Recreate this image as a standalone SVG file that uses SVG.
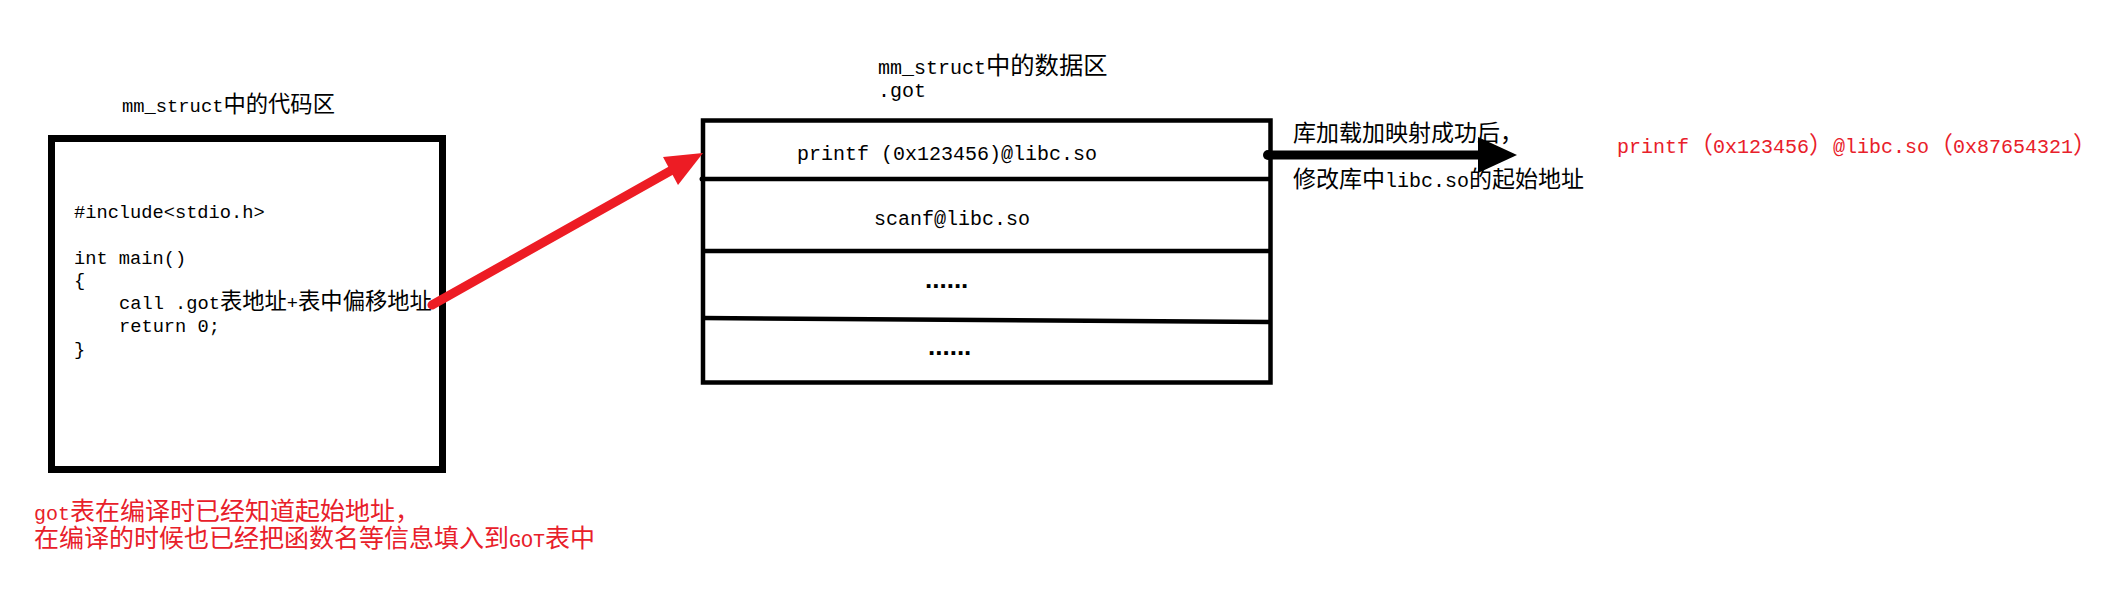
<svg xmlns="http://www.w3.org/2000/svg" width="2114" height="606" viewBox="0 0 2114 606">
<style>
.m{font-family:"Liberation Mono","DejaVu Sans Mono",monospace;fill:#000}
.k{font-family:"Noto Sans CJK SC","Noto Sans CJK JP",sans-serif}
.red{fill:#e8202a}
.dots{font-family:"Liberation Sans",Arial,sans-serif;font-size:26px;font-weight:bold;fill:#000}
.frame{fill:#fff;stroke:#000}
.row{stroke:#000;stroke-width:4.5;fill:none}
</style>
<rect width="2114" height="606" fill="#fff"/>

<g id="code-area">
  <text class="m" x="122" y="112" font-size="18.8">mm_struct<tspan class="k" font-size="22.3">中的代码区</tspan></text>
  <rect class="frame" x="51.5" y="138.5" width="391" height="331" stroke-width="7"/>
  <text class="m" font-size="18.7">
    <tspan x="74" y="218">#include&lt;stdio.h&gt;</tspan>
    <tspan x="74" y="263.6">int main()</tspan>
    <tspan x="74" y="286.4">{</tspan>
    <tspan x="119" y="309.2">call .got<tspan class="k" font-size="22.3">表地址</tspan>+<tspan class="k" font-size="22.3">表中偏移地址</tspan></tspan>
    <tspan x="119" y="332">return 0;</tspan>
    <tspan x="74" y="354.8">}</tspan>
  </text>
</g>

<g id="got-table">
  <text class="m" x="878" y="74" font-size="20">mm_struct<tspan class="k" font-size="24.3">中的数据区</tspan></text>
  <text class="m" x="878" y="97" font-size="20">.got</text>
  <rect class="frame" x="703" y="120.5" width="567.5" height="262" stroke-width="4.5"/>
  <line class="row" x1="701" y1="179" x2="1270" y2="179"/>
  <circle cx="702" cy="179" r="2.5" fill="#000"/>
  <line class="row" x1="703" y1="251" x2="1270" y2="251"/>
  <line class="row" x1="703" y1="318" x2="1270" y2="322"/>
  <text class="m" x="797" y="160" font-size="20">printf (0x123456)@libc.so</text>
  <text class="m" x="874" y="225" font-size="20">scanf@libc.so</text>
  <text class="dots" x="925" y="288">......</text>
  <text class="dots" x="928" y="355">......</text>
</g>

<g id="load-note">
  <text class="k" x="1293" y="141" font-size="23">库加载加映射成功后，</text>
  <text class="k" x="1293" y="187" font-size="23">修改库中<tspan class="m" font-size="20">libc.so</tspan>的起始地址</text>
</g>

<g id="relocated-entry">
  <text class="m red" x="1617" y="153" font-size="20">printf<tspan class="k" font-size="24">（</tspan>0x123456<tspan class="k" font-size="24">）</tspan>@libc.so<tspan class="k" font-size="24">（</tspan>0x87654321<tspan class="k" font-size="24">）</tspan></text>
</g>

<g id="compile-note">
  <text class="m red" x="34" y="520" font-size="20">got<tspan class="k" font-size="25">表在编译时已经知道起始地址，</tspan></text>
  <text class="m red" x="34" y="547" font-size="20"><tspan class="k" font-size="25">在编译的时候也已经把函数名等信息填入到</tspan>GOT<tspan class="k" font-size="25">表中</tspan></text>
</g>

<g id="connectors">
  <line x1="432" y1="305" x2="672" y2="170" stroke="#ed1c24" stroke-width="9" stroke-linecap="round"/>
  <polygon points="703,153 663,157 678,185" fill="#ed1c24"/>
  <circle cx="1268" cy="155" r="5" fill="#000"/>
  <line x1="1268" y1="155" x2="1482" y2="155" stroke="#000" stroke-width="9"/>
  <polygon points="1517,155 1478,137 1478,173" fill="#000"/>
</g>
</svg>
